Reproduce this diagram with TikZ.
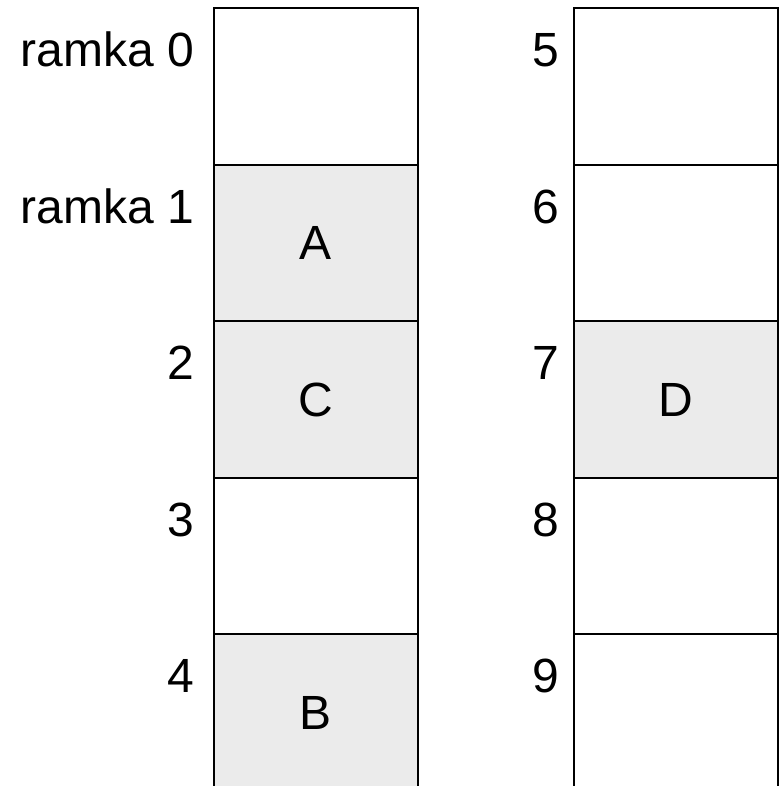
\documentclass[tikz,border=0pt]{standalone}
\usepackage{fontspec}
\setmainfont{Liberation Sans}
\definecolor{cellgray}{HTML}{EBEBEB}
\begin{document}
\begin{tikzpicture}[x=1pt,y=1pt,
  cell/.style={draw=black, line width=2pt, rectangle, minimum width=204pt, minimum height=156.5pt, inner sep=0pt, font=\fontsize{48}{48}\selectfont},
  used/.style={cell, fill=cellgray},
  lbl/.style={anchor=base east, inner sep=0pt, font=\fontsize{48}{48}\selectfont}]
\useasboundingbox (0,0) rectangle (779,-786);
\clip (0,0) rectangle (779,-786);
% left column
\node[cell] (c0) at (315.5,-86.55) {};
\node[used] (c1) at (315.5,-243.05) {A};
\node[used] (c2) at (315.5,-399.55) {C};
\node[cell] (c3) at (315.5,-556.05) {};
\node[used] (c4) at (315.5,-712.55) {B};
% right column
\node[cell] (c5) at (675.5,-86.55) {};
\node[cell] (c6) at (675.5,-243.05) {};
\node[used] (c7) at (675.5,-399.55) {D};
\node[cell] (c8) at (675.5,-556.05) {};
\node[cell] (c9) at (675.5,-712.55) {};
% labels
\node[lbl] (l0) at (194,-66.7) {ramka 0};
\node[lbl] (l1) at (194,-223.2) {ramka 1};
\node[lbl] (l2) at (194,-379.7) {2};
\node[lbl] (l3) at (194,-536.2) {3};
\node[lbl] (l4) at (194,-692.7) {4};
\node[lbl] (l5) at (559,-66.7) {5};
\node[lbl] (l6) at (559,-223.2) {6};
\node[lbl] (l7) at (559,-379.7) {7};
\node[lbl] (l8) at (559,-536.2) {8};
\node[lbl] (l9) at (559,-692.7) {9};
\end{tikzpicture}
\end{document}
